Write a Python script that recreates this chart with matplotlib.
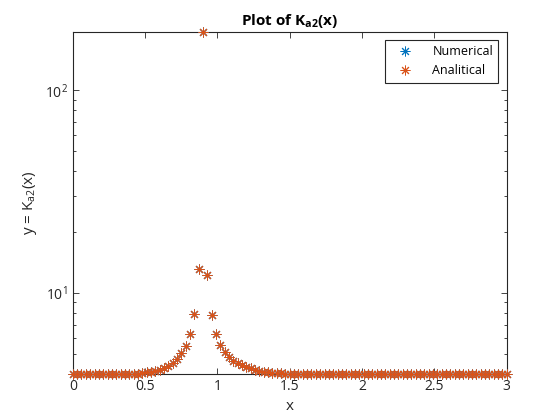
import numpy as np
import matplotlib
matplotlib.use("Agg")
import matplotlib.pyplot as plt

plt.rcParams['font.family'] = ['Open Sans', 'DejaVu Sans']
plt.rcParams['mathtext.fontset'] = 'custom'
plt.rcParams['mathtext.rm'] = 'Open Sans'
plt.rcParams['mathtext.it'] = 'Open Sans'
plt.rcParams['mathtext.bf'] = 'Open Sans:bold'

# x = 0:0.03:3
x_step = 0.03
n_points = 101
x = np.round(np.arange(n_points) * x_step, 2)

# values (log scale), peak at x = 0.9
left_tail = [4.0] * 16 + [4.04, 4.06, 4.09, 4.14, 4.20, 4.28, 4.38, 4.52, 4.75, 5.06, 5.48, 6.30, 7.91, 13.1]
peak = [195.0]
right_tail = [12.3, 7.78, 6.25, 5.53, 5.12, 4.85, 4.65, 4.50, 4.40, 4.32, 4.25, 4.19, 4.14, 4.10,
              4.07, 4.05, 4.03, 4.02, 4.01]
analytical = np.array(left_tail + peak + right_tail + [4.0] * (n_points - 50))
numerical = analytical.copy()

blue = '#0072BD'
orange = '#D95319'
ast = (8, 2, 0)   # matlab style asterisk (+ and x)

fig = plt.figure(figsize=(5.6, 4.2), dpi=100)
ax = fig.add_axes([0.13, 0.11, 0.775, 0.815])

ax.plot(x, numerical, linestyle='none', marker=ast, markersize=7, markeredgewidth=0.7,
        color=blue, label='Numerical', clip_on=False, zorder=3)
ax.plot(x, analytical, linestyle='none', marker=ast, markersize=7, markeredgewidth=0.7,
        color=orange, label='Analitical', clip_on=False, zorder=3.1)

ax.set_yscale('log')
ax.set_xlim(0, 3)
ax.set_ylim(4, analytical.max())
ax.set_xticks([0, 0.5, 1, 1.5, 2, 2.5, 3])
ax.set_xticklabels(['0', '0.5', '1', '1.5', '2', '2.5', '3'])

ax.tick_params(which='both', direction='in', top=True, right=True, colors='#262626',
               labelsize=10, width=0.6)
ax.tick_params(which='major', length=4)
ax.tick_params(which='minor', length=2.5)
ax.tick_params(axis='x', which='minor', top=False, bottom=False)
for s in ax.spines.values():
    s.set_color('#262626')
    s.set_linewidth(0.8)

ax.set_title(r'Plot of K$_{\mathbf{a2}}$(x)', fontsize=11, fontweight='bold', pad=5)
ax.set_xlabel('x', fontsize=11, color='#262626')
ax.set_ylabel(r'y = K$_{a2}$(x)', fontsize=11, color='#262626')

leg = ax.legend(loc='upper right', fontsize=9, fancybox=False, framealpha=1,
                edgecolor='#262626', borderaxespad=0.7, handlelength=2.4, handletextpad=1.0)
leg.get_frame().set_linewidth(0.8)
leg.set_zorder(5)

fig.savefig('out.png', dpi=100)
